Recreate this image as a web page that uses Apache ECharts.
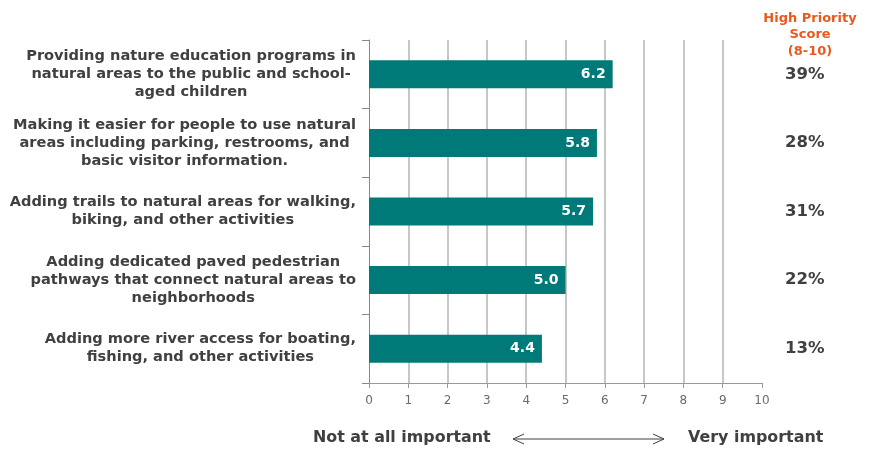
<!DOCTYPE html>
<html>
<head>
<meta charset="utf-8">
<script src="https://cdn.jsdelivr.net/npm/echarts@6/dist/echarts.min.js"></script>
<style>html,body{margin:0;padding:0;background:#fff}#c{width:873px;height:449px}</style>
</head>
<body>
<div id="c"></div>
<script>
var categories = [
  "Providing nature education programs in\nnatural areas to the public and school-\naged children",
  "Making it easier for people to use natural\nareas including parking, restrooms, and\nbasic visitor information.",
  "Adding trails to natural areas for walking,\nbiking, and other activities",
  "Adding dedicated paved pedestrian\npathways that connect natural areas to\nneighborhoods",
  "Adding more river access for boating,\nfishing, and other activities"
];
var scores = [6.2, 5.8, 5.7, 5.0, 4.4];
var highPriority = ["39%", "28%", "31%", "22%", "13%"];
var xTicks = [0, 1, 2, 3, 4, 5, 6, 7, 8, 9, 10];

var FONT = "DejaVu Sans";
var chart = echarts.init(document.getElementById('c'));
chart.setOption({
  animation: false,
  textStyle: { fontFamily: FONT },
  grid: { left: 369, right: 111, top: 40, bottom: 66, containLabel: false },
  title: {
    text: "High Priority\nScore\n(8-10)",
    left: 805, top: 5, textAlign: 'center',
    textStyle: { color: '#E9581C', fontSize: 13, fontWeight: 'bold', fontFamily: FONT, lineHeight: 16.5 }
  },
  xAxis: {
    type: 'value', min: 0, max: 10, interval: 1,
    axisLine: { show: true, lineStyle: { color: '#999', width: 1 } },
    axisTick: { show: true, length: 5, lineStyle: { color: '#999' } },
    axisLabel: { color: '#6a6a6a', fontSize: 12, margin: 12, fontFamily: FONT,
      formatter: function (v) { return xTicks.indexOf(v) >= 0 ? String(v) : ''; } },
    splitLine: { show: true, showMinLine: false, showMaxLine: false, lineStyle: { color: '#B5B5B5', width: 1.5 } }
  },
  yAxis: [{
    type: 'category', data: categories, inverse: true,
    axisLine: { show: true, lineStyle: { color: '#888', width: 1 } },
    axisTick: { show: true, length: 7, lineStyle: { color: '#888' } },
    axisLabel: { align: 'right', margin: 13,
      formatter: function (v) {
        return v.split('\n').map(function (s) { return '{c|' + s + '}'; }).join('\n');
      },
      rich: { c: { color: '#404040', fontSize: 14.6, fontWeight: 'bold', align: 'center', lineHeight: 18, fontFamily: FONT } }
    }
  }, {
    type: 'category', data: highPriority, inverse: true, position: 'right',
    axisLine: { show: false }, axisTick: { show: false },
    axisLabel: { color: '#404040', fontSize: 16.5, fontWeight: 'bold', margin: 23, fontFamily: FONT }
  }],
  series: [{
    type: 'bar', data: scores, barWidth: 28, yAxisIndex: 0,
    itemStyle: { color: '#007A78' },
    label: { show: true, position: 'insideRight', distance: 7, color: '#fff', fontSize: 14, fontWeight: 'bold', fontFamily: FONT,
      formatter: function (p) { return p.value.toFixed(1); } }
  }],
  graphic: [
    { type: 'text', left: 313, top: 430, style: { text: 'Not at all important', fill: '#404040', font: 'bold 15.9px "DejaVu Sans"' } },
    { type: 'text', left: 688, top: 430, style: { text: 'Very important', fill: '#404040', font: 'bold 15.9px "DejaVu Sans"' } },
    { type: 'line', shape: { x1: 513, y1: 439, x2: 664, y2: 439 }, style: { stroke: '#404040', lineWidth: 1 } },
    { type: 'polyline', shape: { points: [[524, 434], [513, 439], [524, 444]] }, style: { stroke: '#404040', lineWidth: 1, fill: null } },
    { type: 'polyline', shape: { points: [[653, 434], [664, 439], [653, 444]] }, style: { stroke: '#404040', lineWidth: 1, fill: null } }
  ]
});
</script>
</body>
</html>
